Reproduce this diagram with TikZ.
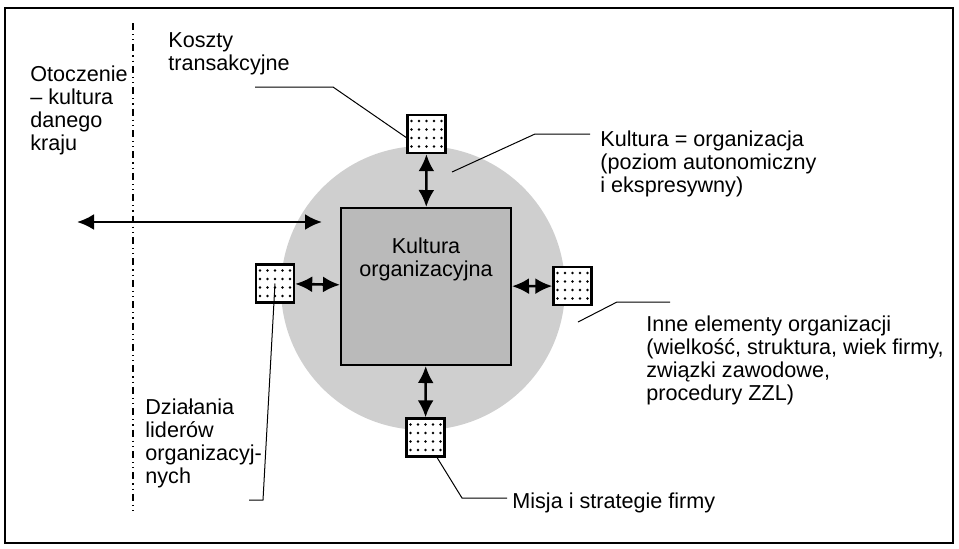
\documentclass[tikz,border=0pt]{standalone}
\usepackage{fontspec}
\setmainfont{Liberation Sans}
\usetikzlibrary{arrows.meta}

\begin{document}
\begin{tikzpicture}[
    x=0.5pt, y=-0.5pt,
    font=\fontsize{10.8}{11.5}\selectfont,
    pole/.style={rectangle, draw, line width=1.2pt, fill=white, minimum size=19pt, inner sep=0pt},
    opis/.style={anchor=north west, align=left, inner sep=0pt},
    line/.style={draw, line width=1.3pt, {Latex[length=8.5pt,width=8pt]}-{Latex[length=8.5pt,width=8pt]}},
    leader/.style={draw, line width=0.5pt}
  ]
    \useasboundingbox (0,0) rectangle (959,548);
    \draw [line width=1pt] (5,8) rectangle (953,543);
    % granica otoczenia
    \draw [line width=0.8pt, dash pattern=on 3.5pt off 2pt on 0.6pt off 2pt on 0.6pt off 2pt] (133,23) -- (133,515);

    \node [circle, fill=black!19, minimum size=142pt, inner sep=0pt] (organizacja) at (423,288) {};
    \node [rectangle, draw, line width=1pt, fill=black!27, minimum width=85pt, minimum height=78.5pt] (kultura) at (426,286.5) {};
    \node [align=center, inner sep=0pt] (kulturaTxt) at (426,259) {Kultura\\organizacyjna};

    \node [pole] (koszty) at (426.5,134) {};
    \node [pole] (liderzy) at (275,283.5) {};
    \node [pole] (inne) at (572.5,286) {};
    \node [pole] (misja) at (425.5,437.5) {};
    \foreach \b in {koszty,liderzy,inne,misja}
      \foreach \i in {-15,-7.5,0,7.5,15}
        \foreach \j in {-13,-4.5,4,12.5}
          \fill ([shift={(\i,\j)}]\b.center) circle (1.4);

    \node [opis] (otoczenieTxt) at (30,65) {Otoczenie\\– kultura\\danego\\kraju};
    \node [opis] (kosztyTxt) at (168,32) {Koszty\\transakcyjne};
    \node [opis] (organizacjaTxt) at (600,130) {Kultura = organizacja\\(poziom autonomiczny\\i ekspresywny)};
    \node [opis] (inneTxt) at (646,315) {Inne elementy organizacji\\(wielkość, struktura, wiek firmy,\\związki zawodowe,\\procedury ZZL)};
    \node [opis] (misjaTxt) at (512,492) {Misja i strategie firmy};
    \node [opis] (liderzyTxt) at (145,398) {Działania\\liderów\\organizacyj-\\nych};

    % strzalki
    \coordinate (otoczenieL) at (77,222);
    \coordinate (otoczenieP) at (322,222);
    \path [line] (otoczenieL) -- (otoczenieP);
    \path [line] (koszty) -- (kultura);
    \path [line] (liderzy) -- (kultura);
    \path [line] (kultura) -- (inne);
    \path [line] (kultura) -- (misja);

    % odnosniki
    \coordinate (kosztyK) at (255,87);
    \path [leader] (kosztyK) -- (333,87) -- (koszty.190);
    \coordinate (organizacjaA) at (452,172);
    \coordinate (organizacjaB) at (590,134);
    \path [leader] (organizacjaA) -- (535,134) -- (organizacjaB);
    \coordinate (inneA) at (578,322);
    \coordinate (inneB) at (670,302);
    \path [leader] (inneA) -- (617,302) -- (inneB);
    \coordinate (misjaK) at (507,498);
    \path [leader] (misja.-60) -- (462,498) -- (misjaK);
    \coordinate (liderzyK) at (249,500);
    \path [leader] (liderzy.center) -- (263,500) -- (liderzyK);
  \end{tikzpicture}
\end{document}
